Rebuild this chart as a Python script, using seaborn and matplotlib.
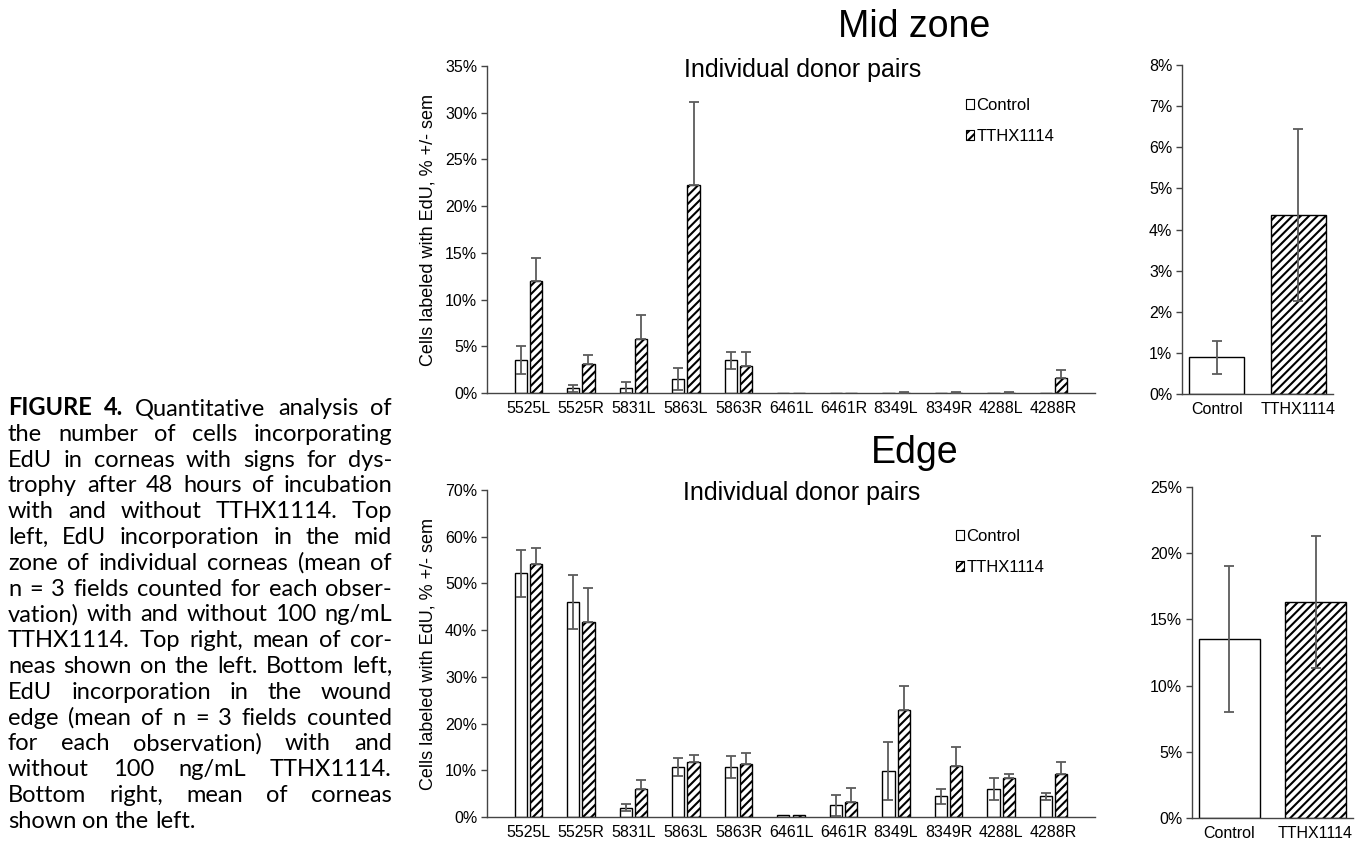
import numpy as np
import pandas as pd
import seaborn as sns
import matplotlib
matplotlib.use("Agg")
import matplotlib.pyplot as plt
from matplotlib.patches import Patch
from matplotlib.ticker import PercentFormatter, MultipleLocator

# Donor pairs (left panels) and group means (right panels), values in %
donors = ["5525L", "5525R", "5831L", "5863L", "5863R", "6461L",
          "6461R", "8349L", "8349R", "4288L", "4288R"]
groups = ["Control", "TTHX1114"]

mid_control = [3.5, 0.5, 0.55, 1.5, 3.5, 0.0, 0.0, 0.0, 0.0, 0.02, 0.02]
mid_control_err = [1.5, 0.4, 0.6, 1.2, 0.9, 0.0, 0.0, 0.0, 0.0, 0.0, 0.0]
mid_tthx = [12.0, 3.1, 5.8, 22.3, 2.9, 0.0, 0.0, 0.05, 0.05, 0.05, 1.6]
mid_tthx_err = [2.5, 1.0, 2.5, 8.8, 1.5, 0.0, 0.0, 0.08, 0.08, 0.08, 0.9]

edge_control = [52.2, 46.0, 2.0, 10.7, 10.7, 0.5, 2.5, 9.8, 4.4, 6.0, 4.4]
edge_control_err = [5.0, 5.8, 0.8, 1.9, 2.3, 0.0, 2.3, 6.2, 1.6, 2.3, 0.7]
edge_tthx = [54.2, 41.7, 6.0, 11.8, 11.4, 0.5, 3.3, 22.8, 11.0, 8.4, 9.1]
edge_tthx_err = [3.4, 7.3, 1.9, 1.5, 2.3, 0.0, 3.0, 5.2, 3.9, 0.7, 2.6]

mid_mean = [0.89, 4.35]
mid_mean_err = [0.4, 2.1]
edge_mean = [13.5, 16.3]
edge_mean_err = [5.5, 5.0]

caption_lines = [
    "FIGURE 4. Quantitative analysis of",
    "the number of cells incorporating",
    "EdU in corneas with signs for dys-",
    "trophy after 48 hours of incubation",
    "with and without TTHX1114. Top",
    "left, EdU incorporation in the mid",
    "zone of individual corneas (mean of",
    "n = 3 fields counted for each obser-",
    "vation) with and without 100 ng/mL",
    "TTHX1114. Top right, mean of cor-",
    "neas shown on the left. Bottom left,",
    "EdU incorporation in the wound",
    "edge (mean of n = 3 fields counted",
    "for each observation) with and",
    "without 100 ng/mL TTHX1114.",
    "Bottom right, mean of corneas",
    "shown on the left.",
]

sns.set_style("ticks")
plt.rcParams["font.family"] = ["Liberation Sans", "DejaVu Sans"]
plt.rcParams["hatch.linewidth"] = 1.5
for key in ["text.color", "axes.labelcolor", "xtick.labelcolor", "ytick.labelcolor"]:
    plt.rcParams[key] = "black"

HATCH = "////"
ERR_KW = dict(fmt="none", ecolor="#5c5c5c", elinewidth=1.3, capsize=3.5,
              capthick=1.3, zorder=4)
W, H = 1359, 843
fig = plt.figure(figsize=(W / 100, H / 100), dpi=100)


def px_axes(left, top, right, bottom):
    return fig.add_axes([left / W, 1 - bottom / H, (right - left) / W, (bottom - top) / H])


def style_axis(ax, ymax, step):
    ax.set_ylim(0, ymax)
    ax.yaxis.set_major_locator(MultipleLocator(step))
    ax.yaxis.set_major_formatter(PercentFormatter(100, decimals=0))
    for side in ["top", "right"]:
        ax.spines[side].set_visible(False)
    for side in ["left", "bottom"]:
        ax.spines[side].set_color("#444444")
        ax.spines[side].set_linewidth(1.0)
    ax.tick_params(axis="y", length=4, width=1, color="#444444", labelsize=11.5, pad=3)
    ax.tick_params(axis="x", length=0, labelsize=11.5, pad=6)
    ax.set_xlabel("")
    ax.set_ylabel("")


def donor_panel(ax, ctrl, ctrl_err, tthx, tthx_err, ymax, step):
    df = pd.DataFrame({
        "donor": donors * 2,
        "group": ["Control"] * len(donors) + ["TTHX1114"] * len(donors),
        "value": list(ctrl) + list(tthx),
    })
    sns.barplot(data=df, x="donor", y="value", hue="group", order=donors,
                hue_order=groups, palette={"Control": "white", "TTHX1114": "white"},
                edgecolor="black", linewidth=1.0, width=0.58, gap=0.2,
                errorbar=None, legend=False, ax=ax)
    for bar in ax.containers[1]:
        bar.set_hatch(HATCH)
    for cont, err, plus_only in [(ax.containers[0], ctrl_err, False),
                                 (ax.containers[1], tthx_err, True)]:
        xs = np.array([b.get_x() + b.get_width() / 2 for b in cont])
        ys = np.array([b.get_height() for b in cont])
        e = np.array(err)
        keep = e > 0
        lower = np.zeros(keep.sum()) if plus_only else e[keep]
        ax.errorbar(xs[keep], ys[keep], yerr=[lower, e[keep]], **ERR_KW)
    style_axis(ax, ymax, step)
    ax.set_ylabel("Cells labeled with EdU, % +/- sem", fontsize=13)
    ax.yaxis.set_label_coords(-0.083, 0.5)


def mean_panel(ax, vals, errs, ymax, step, width):
    sns.barplot(x=groups, y=vals, hue=groups, palette={"Control": "white", "TTHX1114": "white"},
                edgecolor="black", linewidth=1.0, width=width, errorbar=None,
                legend=False, ax=ax)
    ax.patches[1].set_hatch(HATCH)
    xs = [p.get_x() + p.get_width() / 2 for p in ax.patches]
    ys = [p.get_height() for p in ax.patches]
    ax.errorbar(xs, ys, yerr=errs, **ERR_KW)
    style_axis(ax, ymax, step)


ax_mid = px_axes(487, 66, 1095, 393)
donor_panel(ax_mid, mid_control, mid_control_err, mid_tthx, mid_tthx_err, 35, 5)
ax_mid_mean = px_axes(1182, 65, 1333, 394)
mean_panel(ax_mid_mean, mid_mean, mid_mean_err, 8, 1, 0.68)

ax_edge = px_axes(487, 490, 1095, 817)
donor_panel(ax_edge, edge_control, edge_control_err, edge_tthx, edge_tthx_err, 70, 10)
ax_edge_mean = px_axes(1192, 487, 1353, 818)
mean_panel(ax_edge_mean, edge_mean, edge_mean_err, 25, 5, 0.70)

# Legends
handles = [Patch(facecolor="white", edgecolor="black", linewidth=0.8, label="Control"),
           Patch(facecolor="white", edgecolor="black", linewidth=0.8, hatch=HATCH, label="TTHX1114")]
for ax, (lx, ly) in [(ax_mid, (966, 98)), (ax_edge, (956, 529))]:
    ax.legend(handles=handles, loc="upper left", bbox_to_anchor=(lx / W, 1 - ly / H),
              bbox_transform=fig.transFigure, frameon=False, fontsize=12,
              handlelength=0.5, handleheight=0.5, handletextpad=0.12,
              labelspacing=0.95, borderpad=0, borderaxespad=0)

# Titles
fig.text(914 / W, 1 - 37 / H, "Mid zone", fontsize=27, ha="center", va="baseline")
fig.text(915 / W, 1 - 463 / H, "Edge", fontsize=27, ha="center", va="baseline")
fig.text(803 / W, 1 - 77 / H, "Individual donor pairs", fontsize=18, ha="center", va="baseline")
fig.text(802 / W, 1 - 500 / H, "Individual donor pairs", fontsize=18, ha="center", va="baseline")

# Justified caption on the left
renderer = fig.canvas.get_renderer()
cap_left, cap_right, base0, line_step = 8, 392, 415, 25.8
CAP_FAMILY = ["Lato", "DejaVu Sans"]


def measure(s, size, weight="normal"):
    t = fig.text(0, 0, s, fontsize=size, fontweight=weight, family=CAP_FAMILY)
    w = t.get_window_extent(renderer).width
    t.remove()
    return w


# size the caption so the first line sets a little loose across the column
probe = measure("FIGURE 4.", 10, "bold") + measure(" Quantitative analysis of", 10)
cap_size = 10 * (cap_right - cap_left - 24) / probe
space_w = measure("a a", cap_size) - measure("aa", cap_size)

for i, line in enumerate(caption_lines):
    words = line.split(" ")
    y = 1 - (base0 + i * line_step) / H
    texts = []
    for j, word in enumerate(words):
        weight = "bold" if (i == 0 and j < 2) else "normal"
        texts.append(fig.text(0, y, word, fontsize=cap_size, fontweight=weight,
                              family=CAP_FAMILY, va="baseline", ha="left"))
    widths = [t.get_window_extent(renderer).width for t in texts]
    if i == len(caption_lines) - 1:
        space = space_w
    else:
        space = (cap_right - cap_left - sum(widths)) / (len(words) - 1)
    x = cap_left
    for t, w in zip(texts, widths):
        t.set_x(x / W)
        x += w + space

fig.savefig("out.png", dpi=100)
